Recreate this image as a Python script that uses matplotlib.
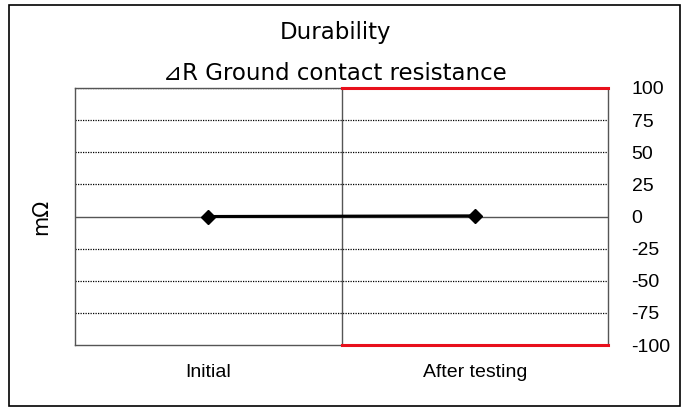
import numpy as np
import matplotlib.pyplot as plt
from matplotlib.patches import Rectangle

# Data
categories = ["Initial", "After testing"]
delta_r = [0, 0.5]
upper_limit = 100
lower_limit = -100
yticks = [100, 75, 50, 25, 0, -25, -50, -75, -100]

narrow = ["Liberation Sans Narrow", "Liberation Sans", "DejaVu Sans"]

fig = plt.figure(figsize=(6.88, 4.12), dpi=100)
ax = fig.add_axes([75 / 688, 1 - 345 / 412, 533 / 688, 257 / 412])

x = np.arange(len(categories)) + 0.5
ax.set_xlim(0, len(categories))
ax.set_ylim(lower_limit, upper_limit)

# grid
for v in yticks:
    if v == 0:
        ax.axhline(v, color="#555555", lw=1.0, zorder=1)
    elif abs(v) != 100:
        ax.axhline(v, color="black", lw=0.9, ls=(0, (1, 1)), zorder=1)
ax.axhline(upper_limit, xmin=0, xmax=0.5, color="black", lw=0.9, ls=(0, (1, 1)))
ax.axvline(1, color="#555555", lw=1.0, zorder=1)

# limit lines on the After testing half
ax.plot([1, 2], [upper_limit, upper_limit], color="#e8101c", lw=2.2, zorder=3, clip_on=False)
ax.plot([1, 2], [lower_limit, lower_limit], color="#e8101c", lw=2.2, zorder=3, clip_on=False)

ax.plot(x, delta_r, color="black", lw=2.2, marker="D", ms=7, zorder=4)

ax.set_xticks(x)
ax.set_xticklabels(categories, fontsize=14, family=narrow)
ax.tick_params(axis="x", length=0, pad=14)
ax.yaxis.tick_right()
ax.set_yticks(yticks)
ax.set_yticklabels([str(v) for v in yticks], fontsize=14, family=narrow)
ax.tick_params(axis="y", length=0, pad=17)
for s in ax.spines.values():
    s.set_color("#555555")
    s.set_linewidth(1.0)

ax.set_ylabel("mΩ", fontsize=15, labelpad=17)

fig.text(335 / 688, 1 - 33 / 412, "Durability", ha="center", va="center", fontsize=16.5)
fig.text(335 / 688, 1 - 73 / 412, "\u22bfR Ground contact resistance", ha="center", va="center", fontsize=16.5)

fig.patches.append(Rectangle((9 / 688, 1 - 406 / 412), 671 / 688, 401 / 412,
                             transform=fig.transFigure, fill=False, ec="black", lw=1.2))

fig.savefig("out.png", dpi=100)
